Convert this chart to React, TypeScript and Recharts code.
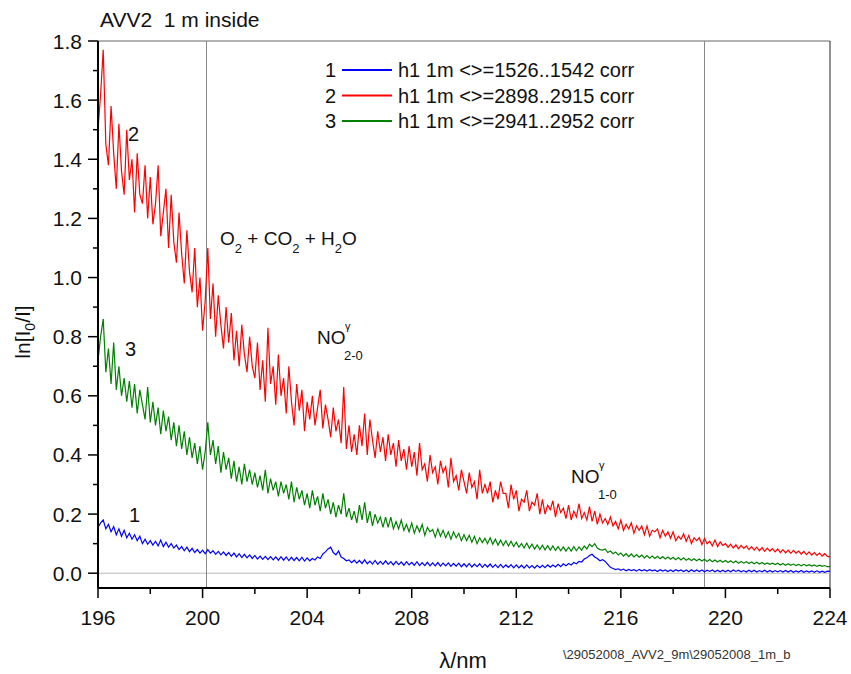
import React from 'react';
import { LineChart, Line, XAxis, YAxis, ReferenceLine } from 'recharts';

// wavelength grid, nm (0.1 nm step), one row per nm
const wavelengths = [
  196.0, 196.1, 196.2, 196.3, 196.4, 196.5, 196.6, 196.7, 196.8, 196.9,
  197.0, 197.1, 197.2, 197.3, 197.4, 197.5, 197.6, 197.7, 197.8, 197.9,
  198.0, 198.1, 198.2, 198.3, 198.4, 198.5, 198.6, 198.7, 198.8, 198.9,
  199.0, 199.1, 199.2, 199.3, 199.4, 199.5, 199.6, 199.7, 199.8, 199.9,
  200.0, 200.1, 200.2, 200.3, 200.4, 200.5, 200.6, 200.7, 200.8, 200.9,
  201.0, 201.1, 201.2, 201.3, 201.4, 201.5, 201.6, 201.7, 201.8, 201.9,
  202.0, 202.1, 202.2, 202.3, 202.4, 202.5, 202.6, 202.7, 202.8, 202.9,
  203.0, 203.1, 203.2, 203.3, 203.4, 203.5, 203.6, 203.7, 203.8, 203.9,
  204.0, 204.1, 204.2, 204.3, 204.4, 204.5, 204.6, 204.7, 204.8, 204.9,
  205.0, 205.1, 205.2, 205.3, 205.4, 205.5, 205.6, 205.7, 205.8, 205.9,
  206.0, 206.1, 206.2, 206.3, 206.4, 206.5, 206.6, 206.7, 206.8, 206.9,
  207.0, 207.1, 207.2, 207.3, 207.4, 207.5, 207.6, 207.7, 207.8, 207.9,
  208.0, 208.1, 208.2, 208.3, 208.4, 208.5, 208.6, 208.7, 208.8, 208.9,
  209.0, 209.1, 209.2, 209.3, 209.4, 209.5, 209.6, 209.7, 209.8, 209.9,
  210.0, 210.1, 210.2, 210.3, 210.4, 210.5, 210.6, 210.7, 210.8, 210.9,
  211.0, 211.1, 211.2, 211.3, 211.4, 211.5, 211.6, 211.7, 211.8, 211.9,
  212.0, 212.1, 212.2, 212.3, 212.4, 212.5, 212.6, 212.7, 212.8, 212.9,
  213.0, 213.1, 213.2, 213.3, 213.4, 213.5, 213.6, 213.7, 213.8, 213.9,
  214.0, 214.1, 214.2, 214.3, 214.4, 214.5, 214.6, 214.7, 214.8, 214.9,
  215.0, 215.1, 215.2, 215.3, 215.4, 215.5, 215.6, 215.7, 215.8, 215.9,
  216.0, 216.1, 216.2, 216.3, 216.4, 216.5, 216.6, 216.7, 216.8, 216.9,
  217.0, 217.1, 217.2, 217.3, 217.4, 217.5, 217.6, 217.7, 217.8, 217.9,
  218.0, 218.1, 218.2, 218.3, 218.4, 218.5, 218.6, 218.7, 218.8, 218.9,
  219.0, 219.1, 219.2, 219.3, 219.4, 219.5, 219.6, 219.7, 219.8, 219.9,
  220.0, 220.1, 220.2, 220.3, 220.4, 220.5, 220.6, 220.7, 220.8, 220.9,
  221.0, 221.1, 221.2, 221.3, 221.4, 221.5, 221.6, 221.7, 221.8, 221.9,
  222.0, 222.1, 222.2, 222.3, 222.4, 222.5, 222.6, 222.7, 222.8, 222.9,
  223.0, 223.1, 223.2, 223.3, 223.4, 223.5, 223.6, 223.7, 223.8, 223.9,
  224.0,
];

// 1: h1 1m <>=1526..1542 corr
const series1 = [
  0.155, 0.17, 0.18, 0.15, 0.165, 0.14, 0.158, 0.13, 0.15, 0.125,
  0.145, 0.12, 0.135, 0.115, 0.13, 0.11, 0.125, 0.10, 0.115, 0.098,
  0.11, 0.095, 0.108, 0.092, 0.112, 0.09, 0.105, 0.088, 0.10, 0.085,
  0.095, 0.08, 0.09, 0.076, 0.088, 0.073, 0.084, 0.07, 0.08, 0.068,
  0.078, 0.066, 0.08, 0.068, 0.076, 0.064, 0.074, 0.062, 0.072, 0.06,
  0.07, 0.057, 0.068, 0.055, 0.066, 0.053, 0.064, 0.052, 0.062, 0.05,
  0.06, 0.048, 0.058, 0.047, 0.057, 0.046, 0.056, 0.045, 0.055, 0.044,
  0.056, 0.044, 0.055, 0.043, 0.054, 0.043, 0.053, 0.042, 0.054, 0.041,
  0.052, 0.042, 0.05, 0.045, 0.055, 0.05, 0.065, 0.072, 0.082, 0.088,
  0.07, 0.062, 0.075, 0.055, 0.05, 0.042, 0.045, 0.036, 0.044, 0.034,
  0.043, 0.033, 0.045, 0.032, 0.041, 0.031, 0.043, 0.03, 0.04, 0.03,
  0.042, 0.03, 0.039, 0.028, 0.04, 0.029, 0.038, 0.027, 0.039, 0.028,
  0.037, 0.027, 0.039, 0.026, 0.036, 0.026, 0.037, 0.025, 0.035, 0.025,
  0.036, 0.024, 0.034, 0.025, 0.035, 0.023, 0.033, 0.024, 0.034, 0.022,
  0.032, 0.022, 0.033, 0.021, 0.031, 0.022, 0.032, 0.02, 0.03, 0.021,
  0.031, 0.02, 0.029, 0.019, 0.03, 0.019, 0.028, 0.02, 0.029, 0.018,
  0.028, 0.018, 0.027, 0.017, 0.028, 0.018, 0.026, 0.017, 0.027, 0.019,
  0.027, 0.019, 0.028, 0.02, 0.028, 0.021, 0.03, 0.022, 0.032, 0.025,
  0.033, 0.028, 0.036, 0.032, 0.04, 0.038, 0.048, 0.052, 0.06, 0.064,
  0.055, 0.05, 0.042, 0.046, 0.04, 0.03, 0.02, 0.016, 0.012, 0.015,
  0.01, 0.014, 0.008, 0.013, 0.009, 0.012, 0.007, 0.013, 0.008, 0.012,
  0.007, 0.012, 0.008, 0.011, 0.006, 0.012, 0.007, 0.011, 0.006, 0.011,
  0.006, 0.012, 0.007, 0.011, 0.006, 0.011, 0.005, 0.012, 0.006, 0.011,
  0.006, 0.011, 0.005, 0.01, 0.006, 0.011, 0.005, 0.01, 0.005, 0.01,
  0.005, 0.01, 0.005, 0.011, 0.006, 0.01, 0.005, 0.009, 0.004, 0.01,
  0.005, 0.01, 0.004, 0.009, 0.005, 0.01, 0.004, 0.009, 0.004, 0.009,
  0.005, 0.009, 0.004, 0.009, 0.004, 0.009, 0.003, 0.008, 0.004, 0.009,
  0.003, 0.008, 0.004, 0.008, 0.003, 0.008, 0.003, 0.007, 0.003, 0.007,
  0.006,
];

// 2: h1 1m <>=2898..2915 corr
const series2 = [
  1.50, 1.62, 1.77, 1.45, 1.38, 1.58, 1.42, 1.30, 1.52, 1.36,
  1.28, 1.50, 1.33, 1.40, 1.22, 1.42, 1.28, 1.25, 1.38, 1.20,
  1.34, 1.18, 1.25, 1.38, 1.14, 1.22, 1.30, 1.10, 1.28, 1.12,
  1.05, 1.22, 1.08, 0.98, 1.16, 1.02, 0.95, 1.10, 0.90, 1.00,
  0.82, 0.92, 1.10, 0.86, 0.98, 0.80, 0.94, 0.84, 0.76, 0.90,
  0.78, 0.88, 0.72, 0.82, 0.70, 0.84, 0.74, 0.68, 0.80, 0.70,
  0.66, 0.78, 0.62, 0.72, 0.58, 0.83, 0.64, 0.70, 0.57, 0.74,
  0.60, 0.66, 0.54, 0.70, 0.58, 0.50, 0.64, 0.55, 0.62, 0.48,
  0.58, 0.52, 0.60, 0.50, 0.56, 0.62, 0.49, 0.57, 0.52, 0.46,
  0.56, 0.48, 0.52, 0.44, 0.63, 0.42, 0.50, 0.41, 0.47, 0.40,
  0.50, 0.43, 0.54, 0.40, 0.52, 0.45, 0.39, 0.48, 0.41, 0.46,
  0.38, 0.47, 0.40, 0.44, 0.36, 0.45, 0.38, 0.42, 0.35, 0.43,
  0.36, 0.41, 0.33, 0.44, 0.35, 0.37, 0.31, 0.40, 0.34, 0.36,
  0.30, 0.38, 0.34, 0.36, 0.29, 0.39, 0.31, 0.33, 0.28, 0.35,
  0.31, 0.27, 0.34, 0.29, 0.31, 0.25, 0.35, 0.27, 0.30, 0.27,
  0.31, 0.24, 0.28, 0.25, 0.31, 0.27, 0.27, 0.22, 0.30, 0.25,
  0.28, 0.21, 0.25, 0.24, 0.28, 0.21, 0.24, 0.23, 0.27, 0.20,
  0.25, 0.20, 0.23, 0.215, 0.245, 0.19, 0.235, 0.205, 0.22, 0.185,
  0.23, 0.18, 0.21, 0.19, 0.235, 0.185, 0.205, 0.18, 0.225, 0.175,
  0.21, 0.165, 0.20, 0.17, 0.185, 0.165, 0.19, 0.16, 0.175, 0.15,
  0.18, 0.145, 0.165, 0.15, 0.17, 0.135, 0.16, 0.145, 0.16, 0.13,
  0.16, 0.125, 0.145, 0.14, 0.15, 0.12, 0.145, 0.125, 0.14, 0.118,
  0.14, 0.11, 0.125, 0.115, 0.133, 0.108, 0.128, 0.10, 0.12, 0.11,
  0.12, 0.097, 0.118, 0.10, 0.108, 0.092, 0.112, 0.09, 0.106, 0.094,
  0.10, 0.088, 0.098, 0.085, 0.096, 0.083, 0.094, 0.084, 0.092, 0.08,
  0.09, 0.078, 0.088, 0.076, 0.087, 0.074, 0.085, 0.075, 0.083, 0.072,
  0.082, 0.07, 0.08, 0.069, 0.078, 0.067, 0.077, 0.068, 0.075, 0.065,
  0.074, 0.063, 0.072, 0.061, 0.07, 0.06, 0.068, 0.058, 0.066, 0.057,
  0.055,
];

// 3: h1 1m <>=2941..2952 corr
const series3 = [
  0.72, 0.80, 0.86, 0.68, 0.76, 0.64, 0.78, 0.62, 0.70, 0.60,
  0.66, 0.58, 0.65, 0.56, 0.64, 0.54, 0.62, 0.57, 0.52, 0.63,
  0.51, 0.58, 0.50, 0.56, 0.47, 0.55, 0.48, 0.53, 0.45, 0.51,
  0.43, 0.50, 0.42, 0.48, 0.40, 0.46, 0.39, 0.44, 0.37, 0.43,
  0.35, 0.41, 0.51, 0.40, 0.45, 0.37, 0.43, 0.34, 0.41, 0.35,
  0.39, 0.32, 0.38, 0.31, 0.36, 0.30, 0.37, 0.31, 0.35, 0.30,
  0.34, 0.29, 0.33, 0.28, 0.35, 0.27, 0.32, 0.28, 0.31, 0.26,
  0.31, 0.27, 0.30, 0.25, 0.31, 0.24, 0.29, 0.25, 0.28, 0.23,
  0.27, 0.22, 0.28, 0.23, 0.26, 0.21, 0.27, 0.22, 0.25, 0.20,
  0.24, 0.19, 0.23, 0.20, 0.27, 0.19, 0.22, 0.18, 0.21, 0.17,
  0.23, 0.18, 0.24, 0.17, 0.21, 0.16, 0.20, 0.17, 0.19, 0.155,
  0.19, 0.155, 0.19, 0.15, 0.175, 0.15, 0.18, 0.145, 0.165, 0.14,
  0.17, 0.135, 0.16, 0.14, 0.165, 0.128, 0.155, 0.14, 0.148, 0.122,
  0.15, 0.125, 0.145, 0.12, 0.14, 0.115, 0.14, 0.12, 0.135, 0.11,
  0.13, 0.11, 0.128, 0.105, 0.125, 0.10, 0.12, 0.104, 0.118, 0.10,
  0.12, 0.098, 0.115, 0.095, 0.112, 0.094, 0.11, 0.092, 0.108, 0.09,
  0.105, 0.088, 0.10, 0.085, 0.102, 0.084, 0.098, 0.082, 0.096, 0.08,
  0.095, 0.079, 0.093, 0.078, 0.092, 0.077, 0.09, 0.076, 0.089, 0.075,
  0.088, 0.075, 0.09, 0.076, 0.089, 0.078, 0.092, 0.082, 0.098, 0.09,
  0.10, 0.085, 0.08, 0.078, 0.082, 0.07, 0.075, 0.066, 0.072, 0.062,
  0.068, 0.058, 0.066, 0.056, 0.065, 0.055, 0.063, 0.054, 0.061, 0.052,
  0.06, 0.051, 0.058, 0.05, 0.057, 0.049, 0.056, 0.048, 0.055, 0.047,
  0.054, 0.046, 0.053, 0.045, 0.052, 0.044, 0.05, 0.043, 0.049, 0.042,
  0.048, 0.041, 0.047, 0.04, 0.046, 0.039, 0.045, 0.038, 0.044, 0.037,
  0.043, 0.036, 0.042, 0.035, 0.041, 0.034, 0.04, 0.034, 0.039, 0.033,
  0.038, 0.032, 0.037, 0.031, 0.036, 0.03, 0.035, 0.03, 0.034, 0.029,
  0.034, 0.028, 0.033, 0.027, 0.032, 0.027, 0.031, 0.026, 0.03, 0.025,
  0.03, 0.025, 0.029, 0.024, 0.028, 0.023, 0.027, 0.023, 0.026, 0.022,
  0.022,
];

const xTicks = [196, 198, 200, 202, 204, 206, 208, 210, 212, 214, 216, 218, 220, 222, 224];
const yTicks = [0, 0.1, 0.2, 0.3, 0.4, 0.5, 0.6, 0.7, 0.8, 0.9, 1.0, 1.1, 1.2, 1.3, 1.4, 1.5, 1.6, 1.7, 1.8];
const markerLines = [200.15, 219.2];

const legendItems = [
  { num: '1', label: 'h1 1m <>=1526..1542 corr', color: '#0000ff' },
  { num: '2', label: 'h1 1m <>=2898..2915 corr', color: '#ff0000' },
  { num: '3', label: 'h1 1m <>=2941..2952 corr', color: '#008000' },
];

const FONT = '"Liberation Sans", Arial, sans-serif';

const XTick = (props: any) => {
  const { x, y, payload } = props;
  const major = (payload.value - 196) % 4 === 0;
  return (
    <g>
      <line x1={x} x2={x} y1={y} y2={y + (major ? 10 : 6)} stroke="#000" strokeWidth={1.5} />
      {major && (
        <text x={x} y={y + 37} textAnchor="middle" fontSize={21} fontFamily={FONT} fill="#111">
          {payload.value}
        </text>
      )}
    </g>
  );
};

const YTick = (props: any) => {
  const { x, y, payload } = props;
  const major = Math.round(payload.value * 10) % 2 === 0;
  return (
    <g>
      <line x1={x} x2={x - (major ? 10 : 5)} y1={y} y2={y} stroke="#000" strokeWidth={1.5} />
      {major && (
        <text x={x - 16} y={y + 7.5} textAnchor="end" fontSize={21} fontFamily={FONT} fill="#111">
          {payload.value.toFixed(1)}
        </text>
      )}
    </g>
  );
};

export default function App() {
  const data = wavelengths.map((wl, i) => ({ wl, s1: series1[i], s2: series2[i], s3: series3[i] }));

  return (
    <div style={{ position: 'absolute', left: 0, top: 0, width: 851, height: 674, background: '#fff', fontFamily: FONT }}>
      <LineChart width={851} height={674} data={data} margin={{ top: 41, right: 21, bottom: 0, left: 0 }}>
        <XAxis
          dataKey="wl"
          type="number"
          domain={[196, 224]}
          ticks={xTicks}
          interval={0}
          height={86}
          tickSize={0}
          tickMargin={0}
          tick={<XTick />}
          axisLine={{ stroke: '#000', strokeWidth: 2 }}
          allowDataOverflow
        />
        <YAxis
          type="number"
          domain={[-0.05, 1.8]}
          ticks={yTicks}
          interval={0}
          width={98}
          tickSize={0}
          tickMargin={0}
          tick={<YTick />}
          axisLine={{ stroke: '#000', strokeWidth: 2 }}
          allowDataOverflow
        />
        <ReferenceLine y={1.8} stroke="#666" strokeWidth={1} />
        <ReferenceLine x={224} stroke="#222" strokeWidth={1} />
        <ReferenceLine y={0} stroke="#bbb" strokeWidth={1} />
        {markerLines.map(v => (
          <ReferenceLine key={v} x={v} stroke="#888" strokeWidth={1} />
        ))}
        <Line dataKey="s2" stroke="#ff0000" strokeWidth={1.2} dot={false} isAnimationActive={false} />
        <Line dataKey="s3" stroke="#008000" strokeWidth={1.2} dot={false} isAnimationActive={false} />
        <Line dataKey="s1" stroke="#0000ff" strokeWidth={1.2} dot={false} isAnimationActive={false} />
      </LineChart>

      <svg width={851} height={674} style={{ position: 'absolute', left: 0, top: 0, pointerEvents: 'none' }} fontFamily={FONT} fill="#111">
        <text x={100} y={27} fontSize={21} style={{ whiteSpace: 'pre' }}>AVV2  1 m inside</text>

        {legendItems.map((it, i) => (
          <g key={it.num}>
            <text x={336} y={77 + i * 25.5} fontSize={20} textAnchor="end">{it.num}</text>
            <line x1={342} x2={392} y1={70 + i * 25.5} y2={70 + i * 25.5} stroke={it.color} strokeWidth={2} />
            <text x={398} y={77 + i * 25.5} fontSize={20}>{it.label}</text>
          </g>
        ))}

        <text x={128} y={141} fontSize={20}>2</text>
        <text x={125} y={356} fontSize={20}>3</text>
        <text x={129} y={522} fontSize={20}>1</text>

        <text x={220} y={245} fontSize={19}>
          O<tspan fontSize={13} dy={8}>2</tspan>
          <tspan dy={-8}> + CO</tspan><tspan fontSize={13} dy={8}>2</tspan>
          <tspan dy={-8}> + H</tspan><tspan fontSize={13} dy={8}>2</tspan>
          <tspan dy={-8}>O</tspan>
        </text>

        <text x={317} y={344} fontSize={19}>NO</text>
        <text x={345} y={330} fontSize={11}>γ</text>
        <text x={344} y={360} fontSize={13}>2-0</text>

        <text x={571} y={483} fontSize={19}>NO</text>
        <text x={599} y={469} fontSize={11}>γ</text>
        <text x={598} y={499} fontSize={13}>1-0</text>

        <text x={0} y={0} fontSize={21} textAnchor="middle" transform="translate(30 332) rotate(-90)">
          ln[I<tspan fontSize={14} dy={5}>0</tspan><tspan dy={-5}>/I]</tspan>
        </text>

        <text x={463} y={668} fontSize={22} textAnchor="middle">λ/nm</text>
        <text x={563} y={659} fontSize={13} fill="#333">\29052008_AVV2_9m\29052008_1m_b</text>
      </svg>
    </div>
  );
}
